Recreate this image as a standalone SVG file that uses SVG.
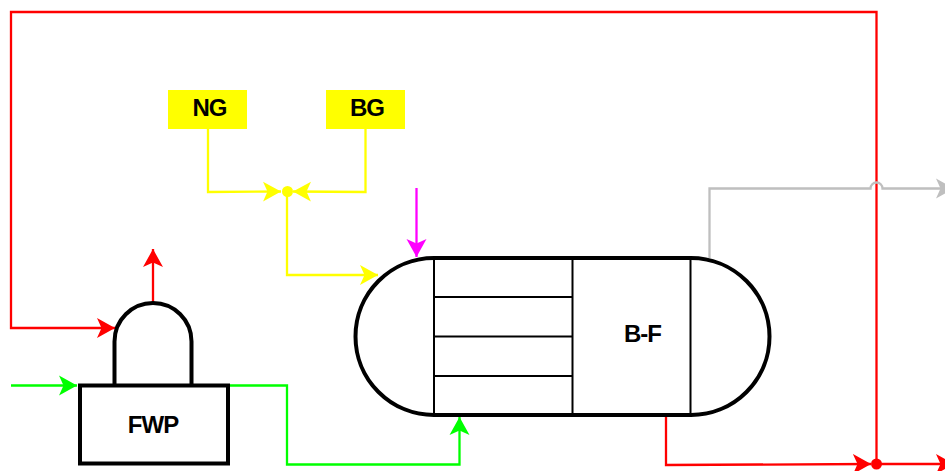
<svg xmlns="http://www.w3.org/2000/svg" width="945" height="471" viewBox="0 0 945 471">
<style>
.c{fill:none;stroke-width:2.300}
.r{stroke:#f00}.g{stroke:#0f0}.y{stroke:#ff0}.m{stroke:#f0f}.s{stroke:#bfbfbf}
.o{fill:none;stroke:#000;stroke-width:4}
.i{fill:none;stroke:#000;stroke-width:2}
text{font-family:"Liberation Sans",Arial,sans-serif;font-weight:bold;font-size:24px;letter-spacing:-1px;text-anchor:middle;fill:#000}
</style>
<defs>
<marker id="ar" markerUnits="userSpaceOnUse" markerWidth="19" markerHeight="22" refX="18" refY="10.500" orient="auto"><path d="M0 .5L18 10.500L0 20.500L4.500 10.500Z" fill="#f00"/></marker>
<marker id="ag" markerUnits="userSpaceOnUse" markerWidth="19" markerHeight="22" refX="18" refY="10.500" orient="auto"><path d="M0 .5L18 10.500L0 20.500L4.500 10.500Z" fill="#0f0"/></marker>
<marker id="ay" markerUnits="userSpaceOnUse" markerWidth="19" markerHeight="22" refX="18" refY="10.500" orient="auto"><path d="M0 .5L18 10.500L0 20.500L4.500 10.500Z" fill="#ff0"/></marker>
<marker id="am" markerUnits="userSpaceOnUse" markerWidth="19" markerHeight="22" refX="18" refY="10.500" orient="auto"><path d="M0 .5L18 10.500L0 20.500L4.500 10.500Z" fill="#f0f"/></marker>
<marker id="as" markerUnits="userSpaceOnUse" markerWidth="19" markerHeight="22" refX="18" refY="10.500" orient="auto"><path d="M0 .5L18 10.500L0 20.500L4.500 10.500Z" fill="#bfbfbf"/></marker>
</defs>
<g id="connectors">
<path class="c r" d="M876.500 464V12H11V328H115" marker-end="url(#ar)"/>
<path class="c r" d="M153 303V249" marker-end="url(#ar)"/>
<path class="c r" d="M666 415V465L871 464" marker-end="url(#ar)"/>
<path class="c r" d="M876 464H954" marker-end="url(#ar)"/>
<path class="c g" d="M11 385.500H77" marker-end="url(#ag)"/>
<path class="c g" d="M228 385.500H287V464.500H459.500V417" marker-end="url(#ag)"/>
<path class="c y" d="M208 129V192L281 191.500" marker-end="url(#ay)"/>
<path class="c y" d="M365.500 129V192L293 191.500" marker-end="url(#ay)"/>
<path class="c y" d="M287 191.500V275H378" marker-end="url(#ay)"/>
<path class="c m" d="M416.500 188V257" marker-end="url(#am)"/>
<path class="c s" d="M709.500 258V188.500H870.500A6 6 0 0 1 882.500 188.500H954" marker-end="url(#as)"/>
<circle cx="287.500" cy="191.500" r="5.500" fill="#ff0"/>
<circle cx="876.500" cy="464" r="5.500" fill="#f00"/>
</g>
<g id="ng"><rect x="168" y="90" width="79" height="39" fill="#ff0"/><text x="209.500" y="116">NG</text></g>
<g id="bg"><rect x="326" y="90" width="79" height="39" fill="#ff0"/><text x="367" y="116">BG</text></g>
<g id="fwp-dome"><path class="o" d="M114.500 385V341.500A38.500 38.500 0 0 1 191.500 341.500V385" fill="#fff"/></g>
<g id="fwp"><rect class="o" x="80" y="385.500" width="148" height="78"/><text x="153" y="433">FWP</text></g>
<g id="b-f">
<path class="o" d="M434 258H691A78.500 78.500 0 0 1 691 415H434A78.500 78.500 0 0 1 434 258Z"/>
<path class="i" d="M434 258V415M572.500 258V415M690.500 258V415M434 297H572.500M434 336.500H572.500M434 376H572.500"/>
<text x="642.500" y="342">B-F</text>
</g>
</svg>
